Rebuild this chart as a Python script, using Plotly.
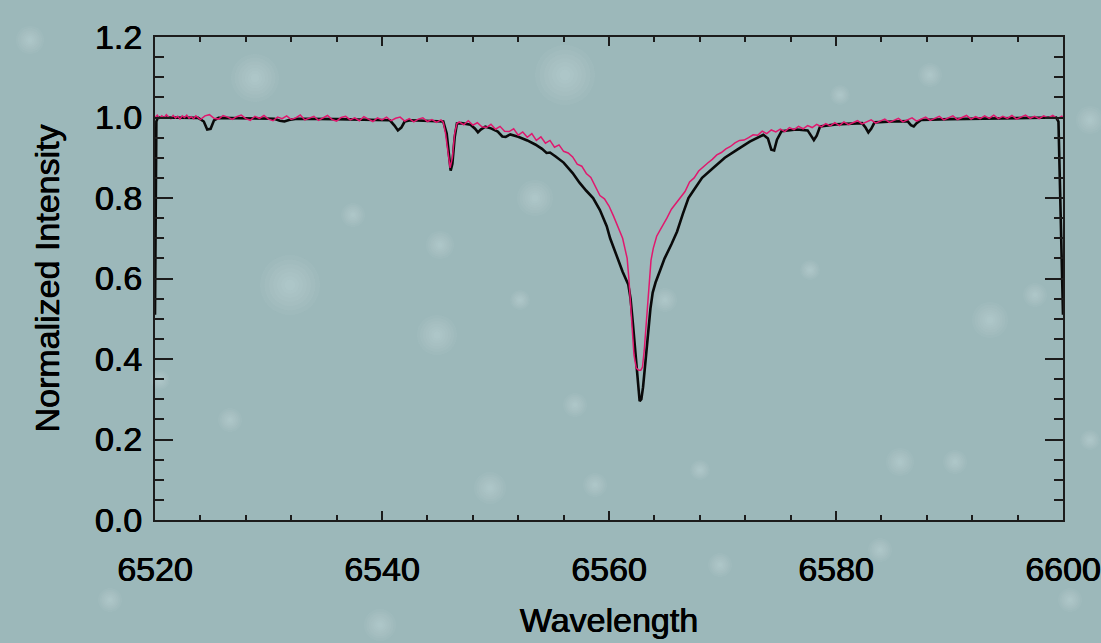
import plotly.graph_objects as go

# ---------------- data ----------------
# black spectrum (model)
black_wl = [6520.00, 6520.05, 6520.12, 6520.25, 6522.0, 6523.8, 6524.3, 6524.6, 6524.9, 6525.2,
            6525.6, 6528.0, 6530.5, 6531.0, 6531.4, 6531.8, 6532.5, 6536.0, 6539.0, 6540.7,
            6541.1, 6541.4, 6541.7, 6542.0, 6542.5, 6544.0, 6545.4, 6545.7, 6545.9, 6546.05,
            6546.2, 6546.4, 6546.6, 6547.0, 6547.8, 6548.2, 6548.45, 6548.7, 6549.1, 6549.6,
            6550.2, 6550.6, 6550.9, 6551.3, 6552.0, 6552.8, 6553.5, 6554.1, 6554.5, 6554.8,
            6555.3, 6556.0, 6556.8, 6557.4, 6558.0, 6558.6, 6559.2, 6559.8, 6560.1, 6560.6,
            6561.2, 6561.7, 6561.9, 6562.1, 6562.3, 6562.5, 6562.7, 6562.85, 6563.0, 6563.2,
            6563.45, 6563.65, 6563.85, 6564.1, 6564.5, 6564.9, 6565.5, 6566.0, 6566.5, 6567.0,
            6567.4, 6568.2, 6569.2, 6570.2, 6571.3, 6572.4, 6573.6, 6574.0, 6574.3, 6574.55,
            6574.8, 6575.2, 6576.5, 6577.5, 6577.8, 6578.05, 6578.3, 6578.6, 6580.0, 6582.3,
            6582.6, 6582.85, 6583.1, 6583.4, 6585.0, 6586.3, 6586.6, 6586.85, 6587.1, 6587.5,
            6590.0, 6595.0, 6599.4, 6599.6, 6599.75, 6600.0]
black_flux = [0.51, 0.80, 0.99, 1.000, 1.000, 0.999, 0.990, 0.970, 0.972, 0.993,
              0.999, 0.998, 0.997, 0.992, 0.990, 0.994, 0.997, 0.996, 0.995, 0.993,
              0.980, 0.968, 0.975, 0.990, 0.993, 0.992, 0.990, 0.960, 0.900, 0.868,
              0.885, 0.950, 0.985, 0.986, 0.982, 0.972, 0.963, 0.970, 0.977, 0.973,
              0.965, 0.953, 0.952, 0.958, 0.952, 0.943, 0.933, 0.922, 0.912, 0.913,
              0.903, 0.888, 0.862, 0.838, 0.818, 0.800, 0.770, 0.730, 0.700, 0.660,
              0.617, 0.585, 0.550, 0.490, 0.430, 0.350, 0.295, 0.300, 0.330, 0.390,
              0.470, 0.525, 0.565, 0.590, 0.620, 0.650, 0.685, 0.717, 0.760, 0.800,
              0.817, 0.850, 0.875, 0.900, 0.920, 0.940, 0.957, 0.948, 0.920, 0.918,
              0.945, 0.966, 0.970, 0.968, 0.955, 0.944, 0.955, 0.978, 0.983, 0.986,
              0.975, 0.963, 0.972, 0.988, 0.990, 0.991, 0.981, 0.978, 0.986, 0.994,
              0.996, 0.999, 1.000, 0.990, 0.800, 0.51]

# magenta spectrum (observed)
pink_wl = [6520.0, 6520.2, 6520.4, 6520.6, 6520.8, 6521.0, 6521.2, 6521.4, 6521.6, 6521.8,
           6522.0, 6522.2, 6522.4, 6522.6, 6522.8, 6523.0, 6523.2, 6523.4, 6523.6, 6523.8,
           6524.0, 6524.4, 6524.8, 6525.2, 6525.6, 6526.0, 6526.4, 6526.8, 6527.2, 6527.6,
           6528.0, 6528.4, 6528.8, 6529.2, 6529.6, 6530.0, 6530.4, 6530.8, 6531.2, 6531.6,
           6532.0, 6532.4, 6532.8, 6533.2, 6533.6, 6534.0, 6534.4, 6534.8, 6535.2, 6535.6,
           6536.0, 6536.4, 6536.8, 6537.2, 6537.6, 6538.0, 6538.4, 6538.8, 6539.2, 6539.6,
           6540.0, 6540.4, 6540.8, 6541.2, 6541.6, 6542.0, 6542.4, 6542.8, 6543.2, 6543.6,
           6544.0, 6544.4, 6544.8, 6545.2, 6545.4, 6545.6, 6545.8, 6546.0, 6546.2, 6546.4,
           6546.6, 6546.8, 6547.2, 6547.6, 6548.0, 6548.4, 6548.8, 6549.2, 6549.6, 6550.0,
           6550.4, 6550.8, 6551.2, 6551.6, 6552.0, 6552.4, 6552.8, 6553.2, 6553.6, 6554.0,
           6554.4, 6554.8, 6555.2, 6555.6, 6556.0, 6556.4, 6556.8, 6557.2, 6557.6, 6558.0,
           6558.4, 6558.8, 6559.2, 6559.6, 6560.0, 6560.4, 6560.8, 6561.0, 6561.2, 6561.4,
           6561.6, 6561.75, 6561.9, 6562.05, 6562.2, 6562.4, 6562.6, 6562.8, 6562.95, 6563.1,
           6563.25, 6563.4, 6563.55, 6563.7, 6563.9, 6564.2, 6564.5, 6564.8, 6565.1, 6565.5,
           6565.9, 6566.3, 6566.7, 6567.1, 6567.5, 6567.9, 6568.3, 6568.7, 6569.1, 6569.5,
           6569.9, 6570.3, 6570.7, 6571.1, 6571.5, 6571.9, 6572.3, 6572.7, 6573.1, 6573.5,
           6573.9, 6574.3, 6574.7, 6575.1, 6575.5, 6575.9, 6576.3, 6576.7, 6577.1, 6577.5,
           6577.9, 6578.3, 6578.7, 6579.1, 6579.5, 6579.9, 6580.3, 6580.7, 6581.1, 6581.5,
           6581.9, 6582.3, 6582.7, 6583.1, 6583.5, 6583.9, 6584.3, 6584.7, 6585.1, 6585.5,
           6585.9, 6586.3, 6586.7, 6587.1, 6587.5, 6587.9, 6588.3, 6588.7, 6589.1, 6589.5,
           6589.9, 6590.3, 6590.7, 6591.1, 6591.5, 6591.9, 6592.3, 6592.7, 6593.1, 6593.5,
           6593.9, 6594.3, 6594.7, 6595.1, 6595.5, 6595.9, 6596.3, 6596.7, 6597.1, 6597.5,
           6597.9, 6598.3, 6598.7, 6599.1, 6599.5, 6599.9, 6600.0]
pink_flux = [1.000, 1.006, 0.998, 1.004, 0.999, 1.007, 1.001, 0.997, 1.005, 0.999,
             1.003, 0.996, 1.004, 1.000, 1.006, 0.998, 1.002, 0.997, 1.004, 1.000,
             0.995, 1.004, 1.007, 0.998, 0.996, 1.005, 1.001, 0.995, 1.002, 1.006,
             0.997, 0.993, 1.003, 0.998, 1.005, 0.996, 0.992, 1.001, 0.997, 1.004,
             0.995, 0.999, 1.006, 0.994, 0.998, 1.003, 0.993, 0.999, 1.005, 0.995,
             0.991, 1.000, 1.003, 0.994, 0.999, 0.992, 1.002, 0.996, 0.990, 0.999,
             0.994, 1.001, 0.992, 0.998, 1.001, 0.991, 0.997, 0.989, 0.996, 0.999,
             0.990, 0.995, 0.988, 0.994, 0.988, 0.960, 0.910, 0.875, 0.900, 0.960,
             0.985, 0.989, 0.982, 0.992, 0.981, 0.987, 0.977, 0.975, 0.983, 0.971,
             0.978, 0.966, 0.965, 0.972, 0.956, 0.964, 0.951, 0.960, 0.943, 0.952,
             0.936, 0.943, 0.926, 0.932, 0.916, 0.912, 0.902, 0.884, 0.879, 0.861,
             0.851, 0.827, 0.806, 0.798, 0.780, 0.755, 0.728, 0.717, 0.700, 0.675,
             0.650, 0.600, 0.530, 0.460, 0.410, 0.378, 0.372, 0.372, 0.380, 0.420,
             0.480, 0.550, 0.610, 0.645, 0.675, 0.705, 0.720, 0.737, 0.750, 0.772,
             0.786, 0.800, 0.816, 0.840, 0.850, 0.867, 0.878, 0.887, 0.896, 0.907,
             0.913, 0.922, 0.928, 0.937, 0.943, 0.944, 0.950, 0.957, 0.956, 0.966,
             0.960, 0.969, 0.964, 0.971, 0.965, 0.975, 0.970, 0.978, 0.972, 0.980,
             0.975, 0.983, 0.977, 0.985, 0.979, 0.987, 0.980, 0.989, 0.982, 0.988,
             0.992, 0.984, 0.990, 0.994, 0.986, 0.992, 0.996, 0.988, 0.994, 0.998,
             0.989, 0.995, 0.999, 0.991, 0.997, 1.001, 0.993, 0.999, 1.003, 0.994,
             1.000, 1.004, 0.995, 1.001, 1.005, 0.996, 1.002, 0.997, 1.004, 0.998,
             1.006, 0.997, 1.003, 0.998, 1.005, 0.996, 1.002, 1.006, 0.998, 1.003,
             0.997, 1.004, 0.999, 1.005, 0.997, 1.003, 1.000]

x_ticks = [6520, 6540, 6560, 6580, 6600]
y_ticks = [0.0, 0.2, 0.4, 0.6, 0.8, 1.0, 1.2]
y_tick_text = ["0.0", "0.2", "0.4", "0.6", "0.8", "1.0", "1.2"]

# ---------------- figure ----------------
FONT = "Liberation Sans, Arial, Helvetica, sans-serif"
AXC = "#1c1c1c"
SHADOW = "0.5px 0px 0px #000000, -0.3px 0px 0px #000000"

fig = go.Figure()
fig.add_trace(go.Scatter(x=black_wl, y=black_flux, mode="lines",
                         line=dict(color="#0a0a0a", width=2.6), showlegend=False))
fig.add_trace(go.Scatter(x=pink_wl, y=pink_flux, mode="lines",
                         line=dict(color="#e0186e", width=1.5), showlegend=False))

# soft background "stars" (decoration of the backdrop)
L, T, PW, PH = 155, 37, 908, 483
stars = [(565, 75, 30), (290, 285, 30), (255, 78, 24), (437, 335, 20), (535, 198, 18),
         (990, 320, 18), (490, 488, 16), (440, 245, 14), (353, 215, 12), (900, 462, 14),
         (955, 462, 12), (880, 550, 12), (595, 485, 12), (575, 405, 12), (665, 300, 12),
         (930, 75, 12), (840, 95, 10), (720, 565, 12), (380, 625, 16), (1090, 120, 14),
         (30, 40, 14), (230, 420, 12), (700, 470, 10), (810, 270, 10), (1035, 295, 12),
         (1090, 440, 10), (110, 600, 12), (1070, 600, 12), (520, 300, 10), (160, 380, 10)]
shapes = []
for (sx, sy, sr) in stars:
    for frac in (1.0, 0.85, 0.7, 0.56, 0.43, 0.3, 0.18):
        r = sr * frac
        shapes.append(dict(
            type="circle", xref="paper", yref="paper", layer="below",
            x0=(sx - r - L) / PW, x1=(sx + r - L) / PW,
            y0=(T + PH - (sy + r)) / PH, y1=(T + PH - (sy - r)) / PH,
            fillcolor="rgba(215,240,245,0.055)", line=dict(width=0)))

fig.update_layout(
    width=1101, height=643,
    margin=dict(l=155, r=38, t=37, b=123),
    paper_bgcolor="#9cb8ba",
    plot_bgcolor="rgba(0,0,0,0)",
    font=dict(family=FONT, size=34, color="#000000", shadow=SHADOW),
    showlegend=False,
    shapes=shapes,
)
fig.update_xaxes(
    range=[6520, 6600], tickvals=x_ticks, ticks="inside", ticklen=9, tickwidth=2,
    tickcolor=AXC, showline=True, linecolor=AXC, linewidth=2, mirror="ticks",
    showgrid=False, zeroline=False, ticklabelstandoff=18, automargin=False,
    tickfont=dict(family=FONT, size=34, color="#000000", shadow=SHADOW),
    minor=dict(dtick=4, tick0=6520, ticks="inside", ticklen=5, tickwidth=2, tickcolor=AXC),
    title=dict(text="Wavelength", standoff=21,
               font=dict(family=FONT, size=34, color="#000000", shadow=SHADOW)),
)
fig.update_yaxes(
    range=[0, 1.2], tickvals=y_ticks, ticktext=y_tick_text, ticks="inside", ticklen=18,
    tickwidth=2, tickcolor=AXC, showline=True, linecolor=AXC, linewidth=2, mirror="ticks",
    showgrid=False, zeroline=False, ticklabelstandoff=4, automargin=False,
    tickfont=dict(family=FONT, size=34, color="#000000", shadow=SHADOW),
    minor=dict(dtick=0.05, tick0=0, ticks="inside", ticklen=9, tickwidth=2, tickcolor=AXC),
    title=dict(text="Normalized Intensity", standoff=25,
               font=dict(family=FONT, size=34, color="#000000", shadow=SHADOW)),
)

fig.write_html("out.html")
